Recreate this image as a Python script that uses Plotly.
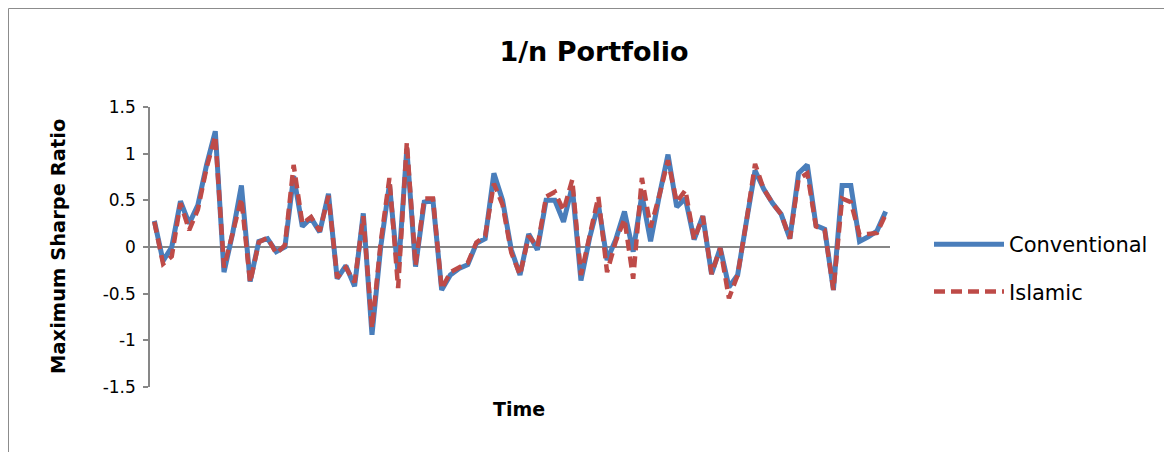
import plotly.graph_objects as go

# Time index (85 observations)
time_idx = list(range(1, 86))

conventional = [
    0.28, -0.15, 0.00, 0.49, 0.25, 0.45, 0.88, 1.24, -0.27, 0.15,
    0.66, -0.37, 0.06, 0.09, -0.05, 0.00, 0.76, 0.22, 0.31, 0.16,
    0.57, -0.34, -0.20, -0.42, 0.36, -0.94, 0.00, 0.67, -0.28, 1.05,
    -0.21, 0.48, 0.50, -0.46, -0.30, -0.23, -0.19, 0.04, 0.09, 0.79,
    0.50, -0.03, -0.30, 0.14, -0.03, 0.50, 0.50, 0.27, 0.65, -0.36,
    0.10, 0.46, -0.14, 0.08, 0.38, -0.05, 0.56, 0.06, 0.55, 0.99,
    0.43, 0.52, 0.08, 0.33, -0.29, -0.01, -0.43, -0.30, 0.27, 0.82,
    0.62, 0.47, 0.35, 0.09, 0.79, 0.88, 0.23, 0.19, -0.46, 0.66,
    0.66, 0.06, 0.11, 0.17, 0.38,
]

islamic = [
    0.27, -0.18, -0.10, 0.47, 0.18, 0.40, 0.85, 1.19, -0.22, 0.15,
    0.52, -0.38, 0.05, 0.10, -0.07, 0.02, 0.88, 0.25, 0.32, 0.17,
    0.55, -0.33, -0.22, -0.38, 0.33, -0.87, 0.05, 0.74, -0.44, 1.12,
    -0.20, 0.52, 0.52, -0.45, -0.27, -0.22, -0.17, 0.05, 0.12, 0.68,
    0.45, -0.06, -0.30, 0.12, 0.00, 0.54, 0.59, 0.39, 0.72, -0.30,
    0.10, 0.54, -0.27, 0.06, 0.30, -0.34, 0.74, 0.21, 0.55, 0.93,
    0.48, 0.61, 0.08, 0.33, -0.29, -0.01, -0.55, -0.30, 0.27, 0.89,
    0.62, 0.47, 0.35, 0.09, 0.73, 0.79, 0.22, 0.18, -0.46, 0.52,
    0.48, 0.13, 0.14, 0.15, 0.35,
]

y_ticks = [-1.5, -1, -0.5, 0, 0.5, 1, 1.5]
y_tick_labels = ["-1.5", "-1", "-0.5", "0", "0.5", "1", "1.5"]

OFF = 8  # page body margin
W, H = 1172 - OFF, 452 - OFF
L, R, T, B = 150 - OFF, 890 - OFF, 107 - OFF, 387 - OFF  # plot area, figure pixels


def px_x(p):
    """screen x pixel -> paper x"""
    return (p - OFF - L) / (R - L)


def px_y(p):
    """screen y pixel -> paper y"""
    return (B - (p - OFF)) / (B - T)


fig = go.Figure()
fig.add_trace(go.Scatter(
    x=time_idx, y=conventional, mode="lines", name="Conventional",
    legendgroup="a",
    line=dict(color="#4A7EBB", width=5),
))
fig.add_trace(go.Scatter(
    x=time_idx, y=islamic, mode="lines", name="Islamic",
    legendgroup="b",
    line=dict(color="#BE4B48", width=4.5, dash="11px,6px"),
))

fig.update_layout(
    width=W, height=H,
    margin=dict(l=L, r=W - R, t=T, b=H - B),
    paper_bgcolor="white", plot_bgcolor="white",
    font=dict(family="DejaVu Sans", color="black"),
    title=dict(text="<b>1/n Portfolio</b>", x=(594 - OFF) / W, xanchor="center",
               xref="container", yref="container", y=1 - (52 - OFF) / H, yanchor="middle",
               font=dict(size=27, family="DejaVu Sans", color="black")),
    xaxis=dict(range=[0.5, len(time_idx) + 0.5], showgrid=False, showticklabels=False,
               ticks="", zeroline=False, showline=False, fixedrange=True),
    yaxis=dict(range=[-1.5, 1.5], tickvals=y_ticks, ticktext=y_tick_labels,
               showgrid=False, zeroline=True, zerolinecolor="#878787", zerolinewidth=1.5,
               showline=True, linecolor="#878787", linewidth=1.5,
               ticks="outside", ticklen=5, tickcolor="#878787", tickwidth=1.5,
               tickfont=dict(size=17, family="DejaVu Sans", color="black"),
               ticklabelstandoff=4),
    showlegend=True,
    legend=dict(x=px_x(929), y=px_y(224), xanchor="left", yanchor="top",
                traceorder="grouped", tracegroupgap=17, itemwidth=70,
                font=dict(size=21, family="DejaVu Sans", color="black"),
                bgcolor="rgba(0,0,0,0)"),
    annotations=[
        dict(text="<b>Maximum Sharpe Ratio</b>", textangle=-90, xref="paper", yref="paper",
             x=px_x(58), y=px_y(247), xanchor="center", yanchor="middle", showarrow=False,
             font=dict(size=19.5, family="DejaVu Sans", color="black")),
        dict(text="<b>Time</b>", xref="paper", yref="paper",
             x=px_x(519), y=px_y(409), xanchor="center", yanchor="middle", showarrow=False,
             font=dict(size=19, family="DejaVu Sans", color="black")),
    ],
    shapes=[
        dict(type="rect", xref="paper", yref="paper",
             x0=px_x(8.5), x1=px_x(1165.5), y0=px_y(470), y1=px_y(8.5),
             line=dict(color="#8C8C8C", width=1), fillcolor="rgba(0,0,0,0)", layer="below"),
    ],
)

fig.write_html("out.html")
